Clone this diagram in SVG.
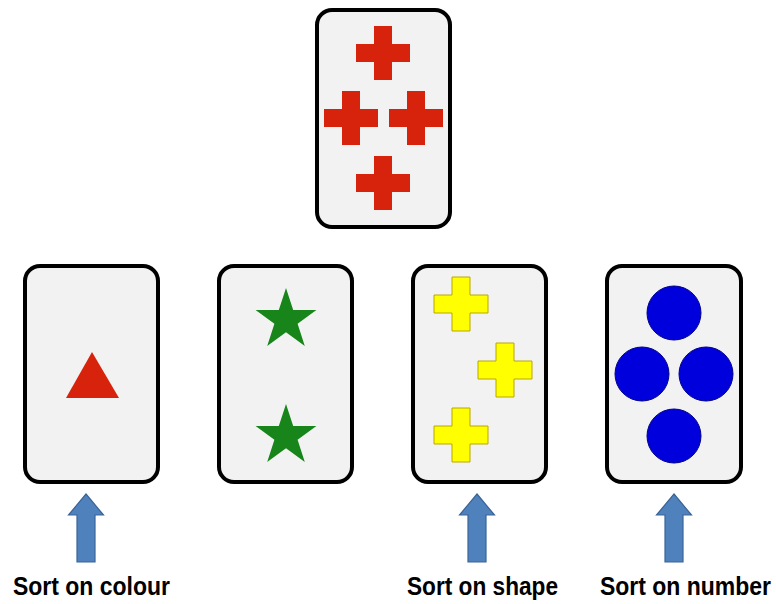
<svg xmlns="http://www.w3.org/2000/svg" xmlns:xlink="http://www.w3.org/1999/xlink" width="776" height="604" viewBox="0 0 776 604">
<style>
.card{fill:#f2f2f2;stroke:#000;stroke-width:4}
.red{fill:#d8230c}
.yel{fill:#ffff00;stroke:#b8a800;stroke-width:1}
.grn{fill:#17851a}
.blu{fill:#0000dc;stroke:#00008a;stroke-width:1}
.arr{fill:#4f81bd;stroke:#3a6496;stroke-width:1.2}
.lbl{font-family:"Liberation Sans",Arial,sans-serif;font-weight:bold;font-size:26px;fill:#000}
</style>
<defs>
<path id="cross" d="M-9,-27h18v18h18v18h-18v18h-18v-18h-18v-18h18z"/>
<path id="star" d="M0,-32 L7.2,-9.9 L30.4,-9.9 L11.6,3.8 L18.8,25.9 L0,12.2 L-18.8,25.9 L-11.6,3.8 L-30.4,-9.9 L-7.2,-9.9 Z"/>
<path id="arrow" d="M0,0 L17.5,21 L9,21 L9,68 L-9,68 L-9,21 L-17.5,21 Z"/>
</defs>
<rect width="776" height="604" fill="#fff"/>
<g id="target-card">
<rect class="card" x="317" y="10" width="133" height="217" rx="15"/>
<use href="#cross" class="red" x="383" y="53"/>
<use href="#cross" class="red" x="351" y="118"/>
<use href="#cross" class="red" x="416" y="118"/>
<use href="#cross" class="red" x="383" y="183"/>
</g>
<g id="card-triangle">
<rect class="card" x="25" y="266" width="133" height="216" rx="15"/>
<polygon class="red" points="92,352 66,398 119,398"/>
</g>
<g id="card-stars">
<rect class="card" x="219" y="266" width="133" height="216" rx="15"/>
<use href="#star" class="grn" x="286" y="320"/>
<use href="#star" class="grn" x="286" y="436"/>
</g>
<g id="card-crosses">
<rect class="card" x="413" y="266" width="133" height="216" rx="15"/>
<use href="#cross" class="yel" x="461" y="304"/>
<use href="#cross" class="yel" x="505" y="370"/>
<use href="#cross" class="yel" x="461" y="435"/>
</g>
<g id="card-circles">
<rect class="card" x="607" y="266" width="134" height="216" rx="15"/>
<circle class="blu" cx="674" cy="313" r="27"/>
<circle class="blu" cx="642" cy="374" r="27"/>
<circle class="blu" cx="706" cy="374" r="27"/>
<circle class="blu" cx="674" cy="436" r="27"/>
</g>
<g id="connectors">
<use href="#arrow" class="arr" x="86" y="494"/>
<use href="#arrow" class="arr" x="477" y="494"/>
<use href="#arrow" class="arr" x="674" y="494"/>
</g>
<g id="labels">
<text class="lbl" x="13" y="595" textLength="157" lengthAdjust="spacingAndGlyphs">Sort on colour</text>
<text class="lbl" x="407" y="595" textLength="151" lengthAdjust="spacingAndGlyphs">Sort on shape</text>
<text class="lbl" x="600" y="595" textLength="171" lengthAdjust="spacingAndGlyphs">Sort on number</text>
</g>
</svg>
